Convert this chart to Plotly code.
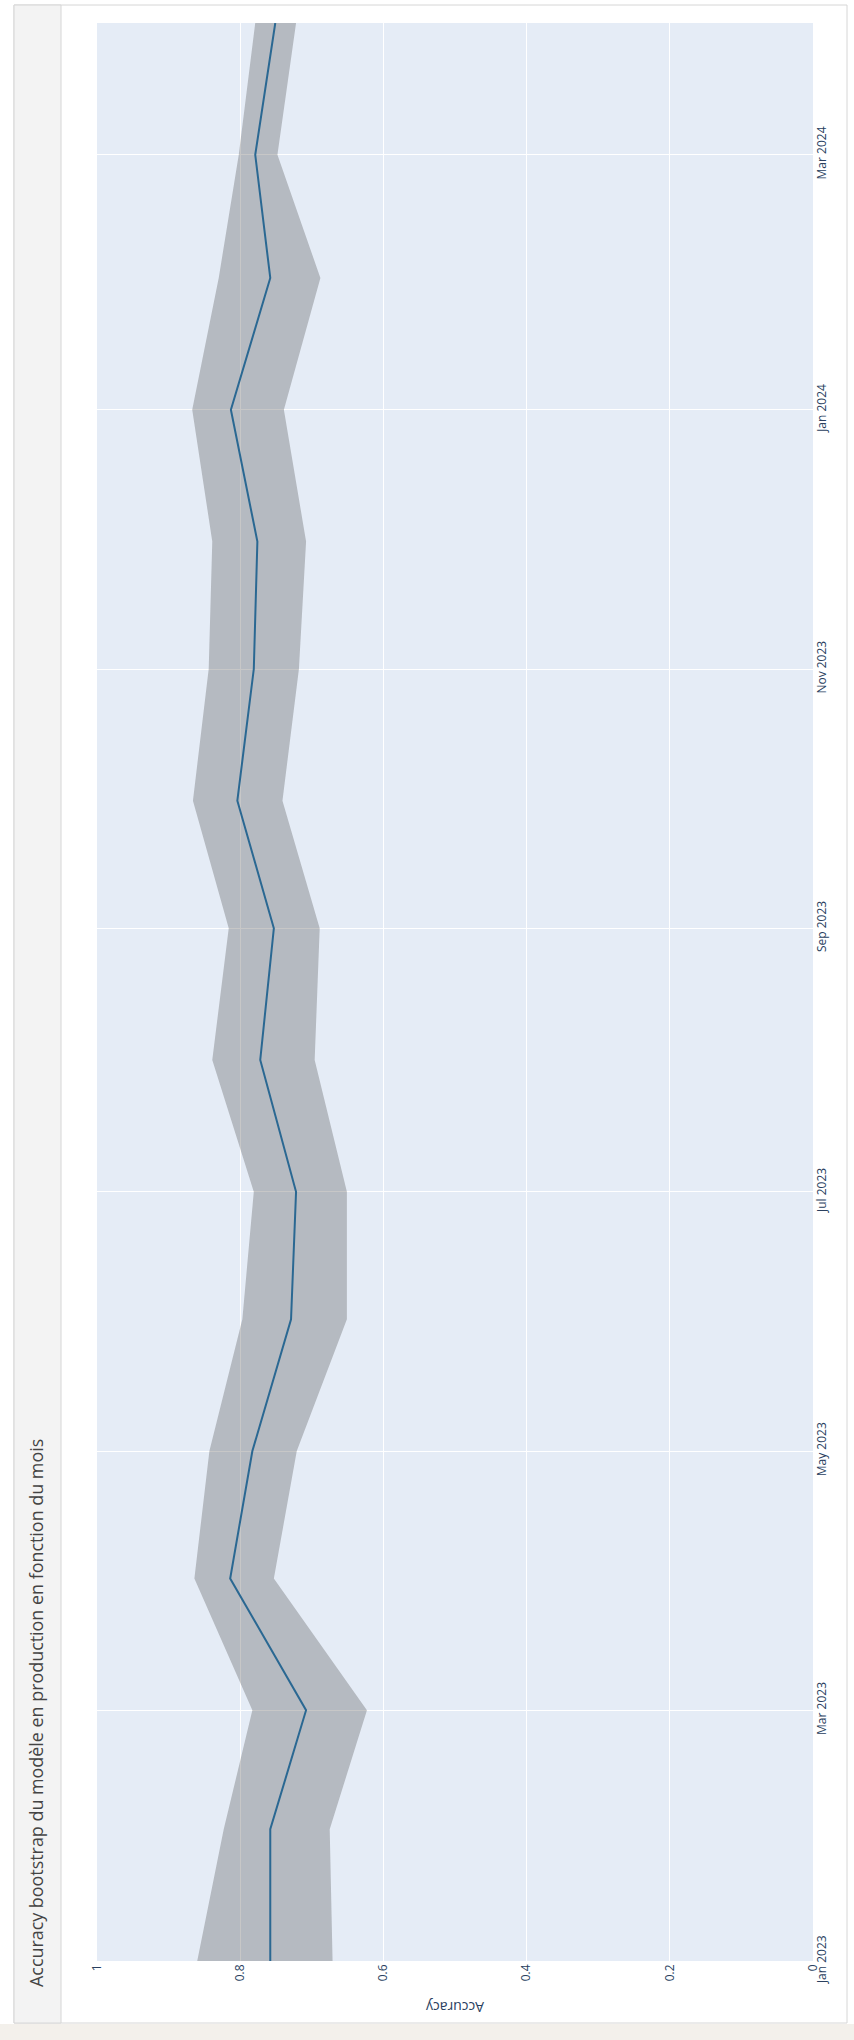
import plotly.graph_objects as go

# Monthly bootstrap accuracy of the production model
months = [
    "2023-01-01", "2023-02-01", "2023-03-01", "2023-04-01", "2023-05-01",
    "2023-06-01", "2023-07-01", "2023-08-01", "2023-09-01", "2023-10-01",
    "2023-11-01", "2023-12-01", "2024-01-01", "2024-02-01", "2024-03-01",
    "2024-04-01",
]
accuracy_mean = [0.758, 0.758, 0.708, 0.814, 0.783, 0.729, 0.722, 0.772,
                 0.753, 0.804, 0.781, 0.776, 0.813, 0.758, 0.779, 0.751]
accuracy_upper = [0.860, 0.823, 0.783, 0.864, 0.843, 0.797, 0.781, 0.839,
                  0.816, 0.866, 0.844, 0.839, 0.867, 0.830, 0.802, 0.779]
accuracy_lower = [0.671, 0.675, 0.623, 0.753, 0.721, 0.651, 0.651, 0.696,
                  0.689, 0.741, 0.718, 0.708, 0.739, 0.688, 0.748, 0.722]

title_text = "Accuracy bootstrap du modèle en production en fonction du mois"
value_axis_title = "Accuracy"
value_ticks = [0, 0.2, 0.4, 0.6, 0.8, 1]

W, H = 854, 2040
L, R, T, B = 97, 813, 23, 1961  # plot area in pixels


def px_x(p):
    return (p - L) / (R - L)


def px_y(p):
    return (B - p) / (B - T)


fig = go.Figure()

# mean accuracy line
fig.add_trace(go.Scatter(
    x=accuracy_mean, y=months, mode="lines",
    line=dict(color="rgb(31, 119, 180)", width=2),
    name="Accuracy", showlegend=False,
))
# confidence band (upper then lower, filled between)
fig.add_trace(go.Scatter(
    x=accuracy_upper, y=months, mode="lines",
    line=dict(width=0), marker=dict(color="#444"),
    showlegend=False, hoverinfo="skip",
))
fig.add_trace(go.Scatter(
    x=accuracy_lower, y=months, mode="lines",
    line=dict(width=0), marker=dict(color="#444"),
    fill="tonextx", fillcolor="rgba(68, 68, 68, 0.3)",
    showlegend=False, hoverinfo="skip",
))

shapes = [
    # bottom page strip
    dict(type="rect", xref="paper", yref="paper", layer="below",
         x0=px_x(0), x1=px_x(W), y0=px_y(H), y1=px_y(2024),
         fillcolor="#f3f0eb", line=dict(width=0)),
    # card outline
    dict(type="rect", xref="paper", yref="paper", layer="below",
         x0=px_x(14), x1=px_x(847), y0=px_y(2023), y1=px_y(5),
         fillcolor="rgba(0,0,0,0)", line=dict(color="#d6d6d6", width=1)),
    # header strip
    dict(type="rect", xref="paper", yref="paper", layer="below",
         x0=px_x(14), x1=px_x(61), y0=px_y(2023), y1=px_y(5),
         fillcolor="#f3f3f3", line=dict(color="#d6d6d6", width=1)),
]

annotations = [
    dict(text=title_text, xref="paper", yref="paper",
         x=px_x(36), y=px_y(1713), xanchor="center", yanchor="middle",
         textangle=-90, showarrow=False,
         font=dict(family="Open Sans", size=17.9, color="#444")),
    dict(text=value_axis_title, xref="paper", yref="paper",
         x=0.5, y=px_y(2008), xanchor="center", yanchor="middle",
         textangle=180, showarrow=False,
         font=dict(family="Open Sans", size=14, color="#2a3f5f")),
]

fig.update_layout(
    width=W, height=H,
    margin=dict(l=L, r=W - R, t=T, b=H - B, pad=0),
    paper_bgcolor="#ffffff",
    plot_bgcolor="#E5ECF6",
    font=dict(family="Open Sans", size=12, color="#2a3f5f"),
    shapes=shapes,
    annotations=annotations,
    showlegend=False,
    xaxis=dict(
        range=[1, 0], tickvals=value_ticks, tickangle=-90,
        showgrid=True, gridcolor="white", gridwidth=1,
        zeroline=False, showline=False, ticks="",
        tickfont=dict(size=12, color="#2a3f5f"),
    ),
    yaxis=dict(
        type="date", range=[months[0], months[-1]], side="right",
        tick0=months[0], dtick="M2", tickformat="%b %Y", tickangle=-90,
        showgrid=True, gridcolor="white", gridwidth=1,
        zeroline=False, showline=False, ticks="",
        tickfont=dict(size=12, color="#2a3f5f"),
    ),
)

fig.write_html("out.html")
